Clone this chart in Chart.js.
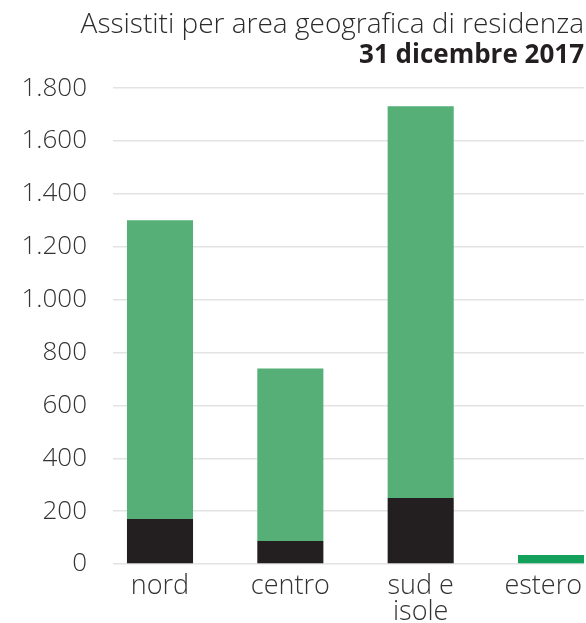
<!DOCTYPE html>
<html>
<head>
<meta charset="utf-8">
<script src="https://cdn.jsdelivr.net/npm/chart.js@4"></script>
<style>
  html, body { margin: 0; padding: 0; background: #fff; }
  #wrap { width: 586px; height: 623px; position: relative; }
</style>
</head>
<body>
<div id="wrap"><canvas id="chart"></canvas></div>
<script>
/* ---------- data ---------- */
const categories = [['nord'], ['centro'], ['sud e', 'isole'], ['estero']];
const positions  = [0, 1, 2, 3];
const darkPart   = [170, 87, 250, 0];
const greenPart  = [1130, 653, 1482, 34];
const yTicks     = [0, 200, 400, 600, 800, 1000, 1200, 1400, 1600, 1800];

/* ---------- helpers ---------- */
const FONT = "'Open Sans', 'Noto Sans', sans-serif";
const fmt  = v => String(v).replace(/\B(?=(\d{3})+(?!\d))/g, '.');

// keep the last x label inside the canvas (right-aligned to the plot edge)
const fitLastLabel = {
  id: 'fitLastLabel',
  beforeDraw(chart) {
    const s = chart.scales.x;
    const items = s.getLabelItems();
    const last = items[items.length - 1];
    if (!last) return;
    last.options.textAlign = 'right';
    last.options.translation[0] = s.right - 2;
  }
};

/* ---------- chart ---------- */
new Chart(document.getElementById('chart'), {
  type: 'bar',
  data: {
    labels: positions,
    datasets: [
      {
        data: darkPart,
        backgroundColor: '#231f20',
        barPercentage: 0.507,
        categoryPercentage: 1
      },
      {
        data: greenPart,
        backgroundColor: ['#55af77', '#55af77', '#55af77', '#12a05a'],
        barPercentage: 0.507,
        categoryPercentage: 1
      }
    ]
  },
  options: {
    responsive: true,
    maintainAspectRatio: false,
    animation: false,
    layout: { padding: { left: 12, right: 2, top: 0, bottom: 0 } },
    plugins: {
      legend: { display: false },
      tooltip: { enabled: false },
      title: {
        display: true,
        text: 'Assistiti per area geografica di residenza',
        align: 'end',
        color: '#2b2b2b',
        font: { family: FONT, size: 28, weight: '300', lineHeight: 1.0 },
        padding: { top: 11, bottom: 0 }
      },
      subtitle: {
        display: true,
        text: '31 dicembre 2017',
        align: 'end',
        color: '#231f20',
        font: { family: FONT, size: 26, weight: 'bold' },
        padding: { top: 1, bottom: 17 }
      }
    },
    scales: {
      x: {
        type: 'linear',
        stacked: true,
        offset: false,
        min: -0.3606,
        max: 3.253,
        grid: { display: false, drawTicks: false },
        border: { display: false },
        afterBuildTicks: s => { s.ticks = positions.map(v => ({ value: v })); },
        afterFit: s => { s.height = 59; s.paddingLeft = 0; s.paddingRight = 0; },
        ticks: {
          autoSkip: false,
          maxRotation: 0,
          padding: 9,
          color: '#333',
          font: { family: FONT, size: 27, weight: '300', lineHeight: 0.97 },
          callback: v => categories[v] || ''
        }
      },
      y: {
        stacked: true,
        min: 0,
        max: 1800,
        border: { display: false },
        grid: { color: '#e3e3e3', lineWidth: 1.5, drawTicks: false },
        afterBuildTicks: s => { s.ticks = yTicks.map(v => ({ value: v })); },
        afterFit: s => { s.width = 101; },
        ticks: {
          padding: 26,
          color: '#333',
          font: { family: FONT, size: 26, weight: '300' },
          callback: v => fmt(v)
        }
      }
    }
  },
  plugins: [fitLastLabel]
});
</script>
</body>
</html>
